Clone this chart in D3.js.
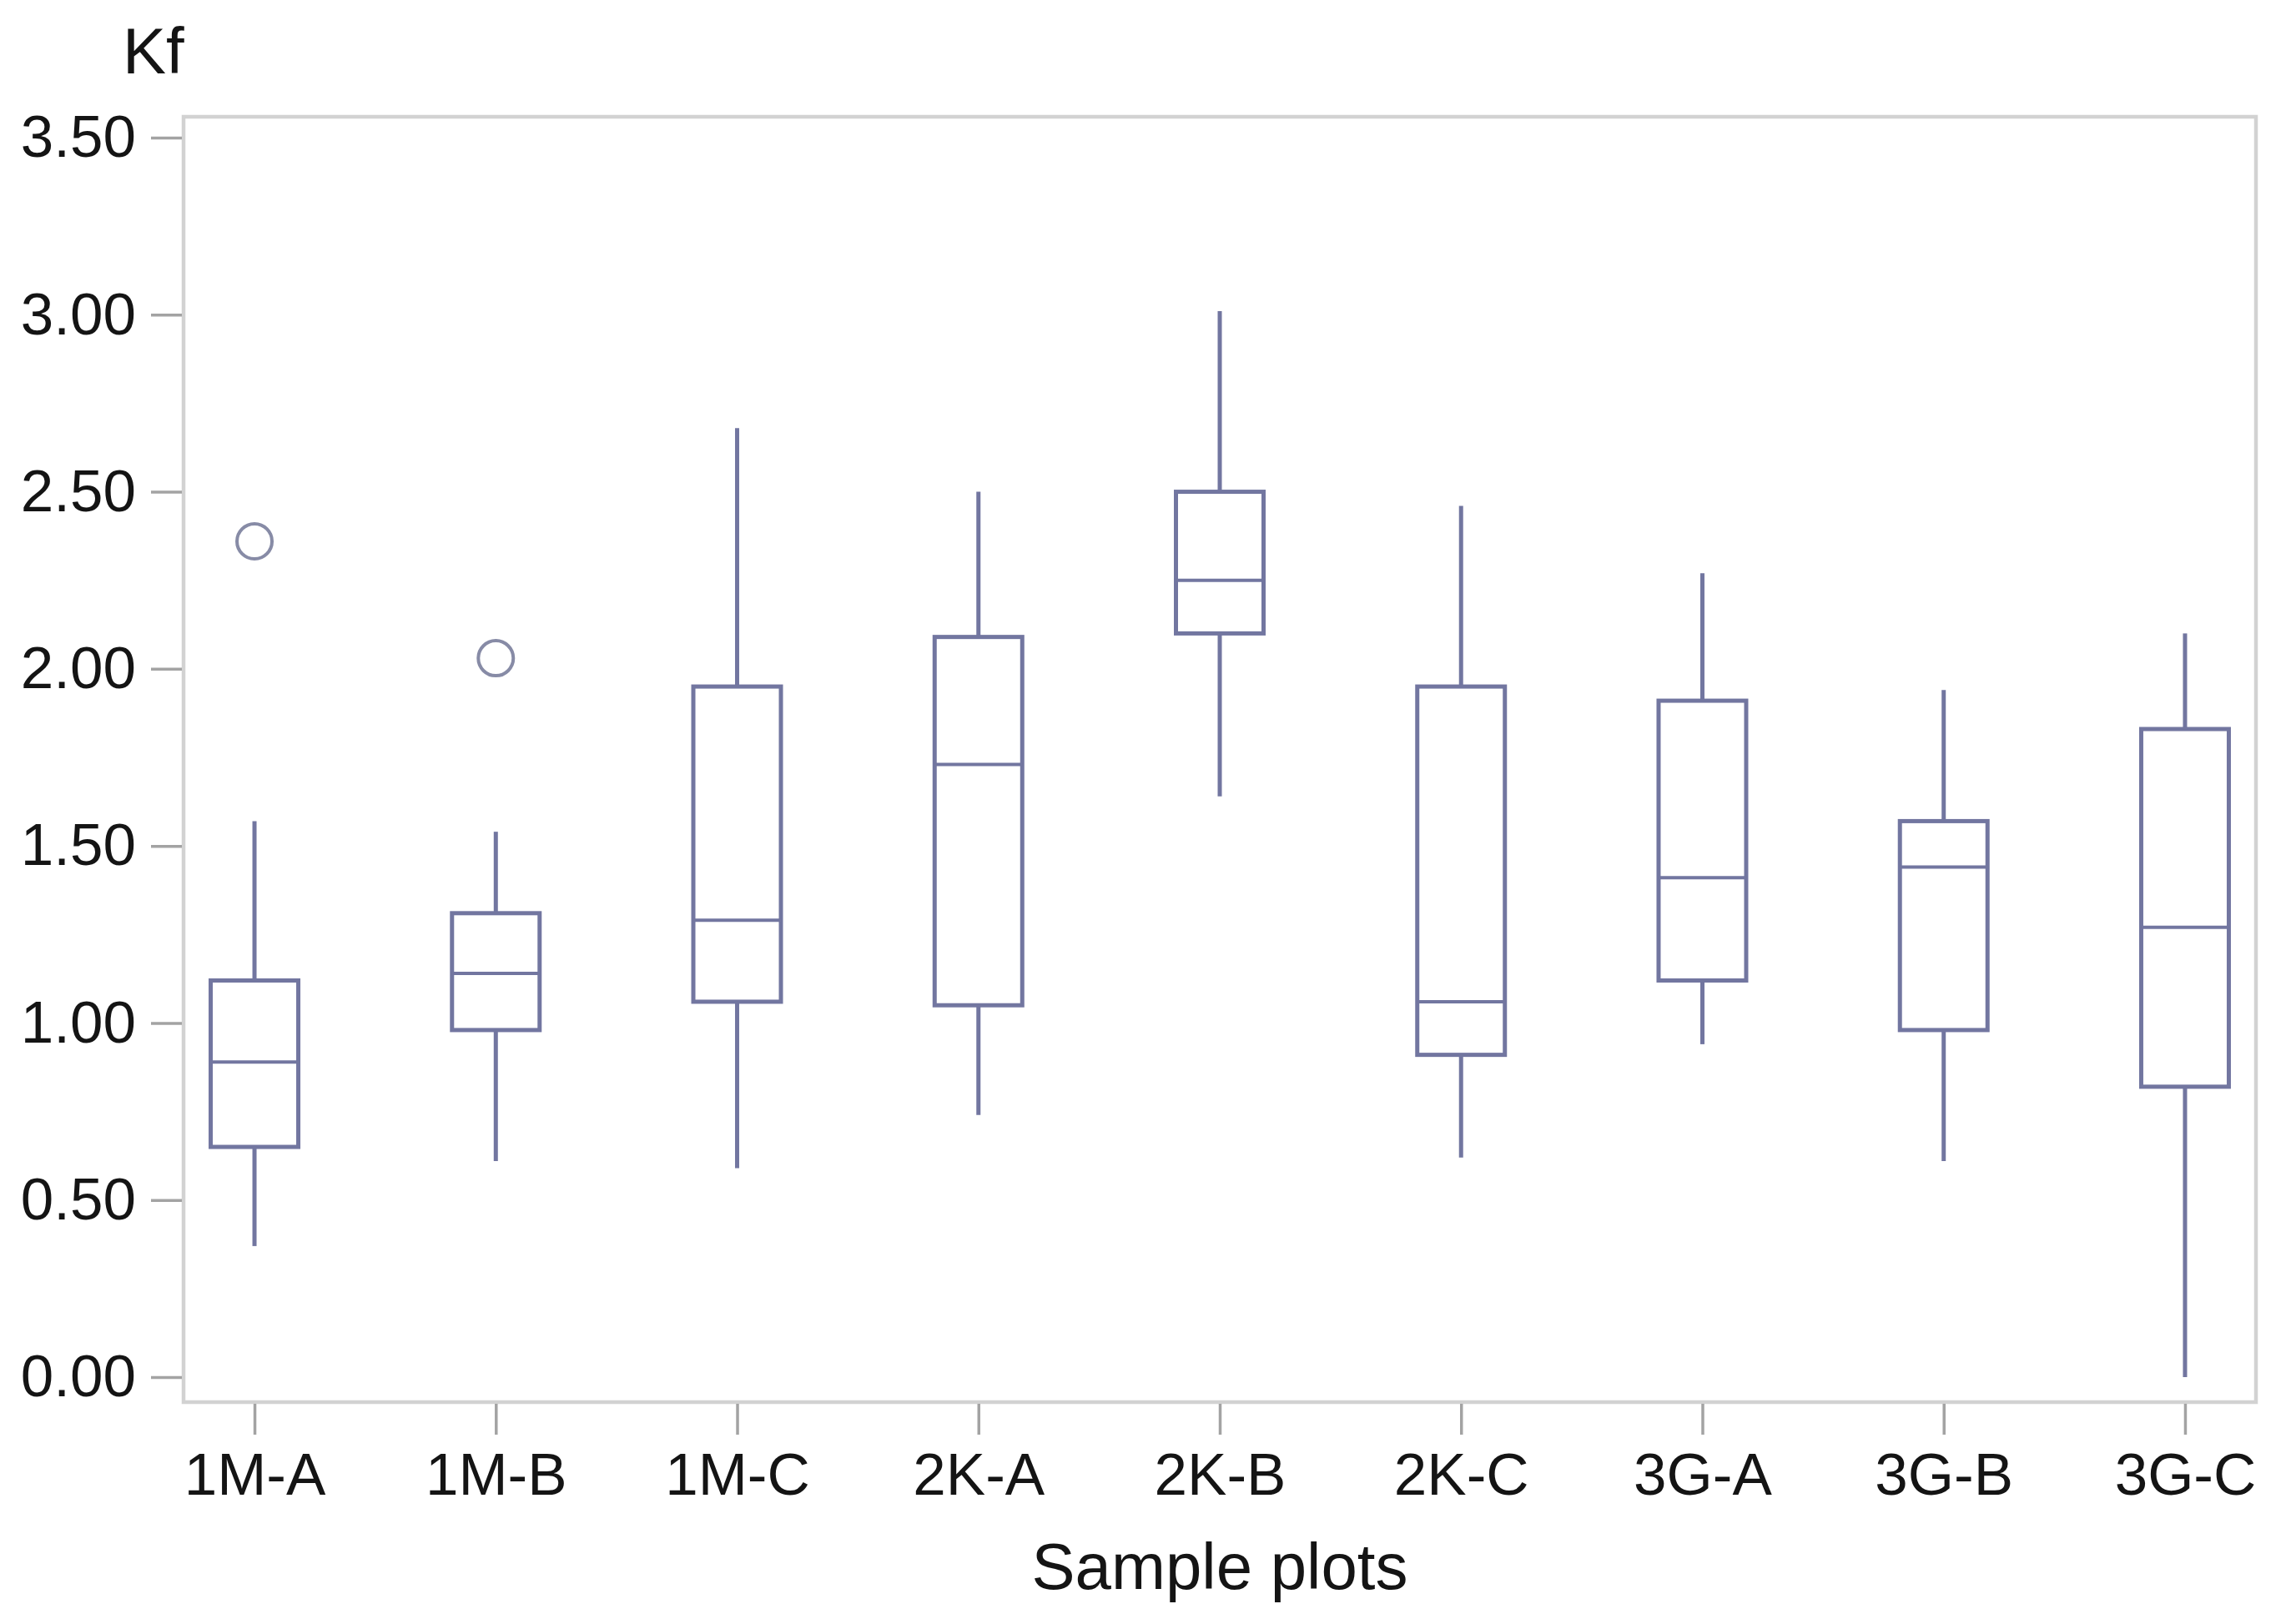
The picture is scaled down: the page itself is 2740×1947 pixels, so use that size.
<!DOCTYPE html>
<html>
<head>
<meta charset="utf-8">
<script src="https://cdn.jsdelivr.net/npm/d3@7"></script>
<style>
  body { margin: 0; background: #ffffff; }
  text { font-family: "Liberation Sans", Arial, sans-serif; fill: #141414; }
</style>
</head>
<body>
<div id="canevas"></div>
<script>

////////////////////////////////////////////////////////////////////////////////////////////
//                                        données                                         //
////////////////////////////////////////////////////////////////////////////////////////////

let categories = ["1M-A", "1M-B", "1M-C", "2K-A", "2K-B", "2K-C", "3G-A", "3G-B", "3G-C"];
let basMoustache = [0.37, 0.61, 0.59, 0.74, 1.64, 0.62, 0.94, 0.61, 0.00];
let q1          = [0.65, 0.98, 1.06, 1.05, 2.10, 0.91, 1.12, 0.98, 0.82];
let mediane     = [0.89, 1.14, 1.29, 1.73, 2.25, 1.06, 1.41, 1.44, 1.27];
let q3          = [1.12, 1.31, 1.95, 2.09, 2.50, 1.95, 1.91, 1.57, 1.83];
let hautMoustache = [1.57, 1.54, 2.68, 2.50, 3.01, 2.46, 2.27, 1.94, 2.10];
// valeurs atypiques
let atypiques = [{cat: "1M-A", v: 2.36}, {cat: "1M-B", v: 2.03}];

let yTicks = [0, 0.5, 1, 1.5, 2, 2.5, 3, 3.5];

let boites = categories.map((c, i) => ({
  cat: c, lo: basMoustache[i], q1: q1[i], med: mediane[i], q3: q3[i], hi: hautMoustache[i]
}));

////////////////////////////////////////////////////////////////////////////////////////////
//                                        canevas                                         //
////////////////////////////////////////////////////////////////////////////////////////////

let largeur = 2740;
let hauteur = 1947;

let cadre = {gauche: 220, droite: 2704, haut: 140, bas: 1681};

let couleurBoite = "#7276a0";
let couleurAxe = "#a3a3a3";

let canevas = d3.select("#canevas")
  .append("svg")
  .attr("width", largeur)
  .attr("height", hauteur);

canevas.append("rect")
  .attr("width", "100%")
  .attr("height", "100%")
  .attr("fill", "#ffffff");

// echelles
let echelleX = d3.scalePoint()
  .domain(categories)
  .range([cadre.gauche, cadre.droite])
  .padding(0.294);

let echelleY = d3.scaleLinear()
  .domain([0, 3.5])
  .range([1651, 165]);

let demiLargeur = 52.5;

// cadre du graphique
canevas.append("rect")
  .attr("x", cadre.gauche)
  .attr("y", cadre.haut)
  .attr("width", cadre.droite - cadre.gauche)
  .attr("height", cadre.bas - cadre.haut)
  .attr("fill", "none")
  .attr("stroke", "#d2d2d2")
  .attr("stroke-width", 4.5);

// axe y
let axeY = d3.axisLeft(echelleY)
  .tickValues(yTicks)
  .tickFormat(d3.format(".2f"))
  .tickSize(37)
  .tickPadding(18);

let gY = canevas.append("g")
  .attr("transform", `translate(${cadre.gauche - 2},0)`)
  .call(axeY);
gY.select(".domain").remove();
gY.selectAll(".tick line").attr("stroke", couleurAxe).attr("stroke-width", 3.5);
gY.selectAll(".tick text")
  .style("font-size", "71px")
  .attr("fill", "#141414");

// axe x
let axeX = d3.axisBottom(echelleX)
  .tickSize(37)
  .tickPadding(22);

let gX = canevas.append("g")
  .attr("transform", `translate(0,${cadre.bas + 2})`)
  .call(axeX);
gX.select(".domain").remove();
gX.selectAll(".tick line").attr("stroke", couleurAxe).attr("stroke-width", 3.5);
gX.selectAll(".tick text")
  .style("font-size", "71px")
  .attr("fill", "#141414");

////////////////////////////////////////////////////////////////////////////////////////////
//                                        boites                                          //
////////////////////////////////////////////////////////////////////////////////////////////

let g = canevas.append("g");

// moustaches
g.selectAll(".moustache-haut")
  .data(boites)
  .enter()
  .append("line")
    .attr("x1", d => echelleX(d.cat))
    .attr("x2", d => echelleX(d.cat))
    .attr("y1", d => echelleY(d.q3))
    .attr("y2", d => echelleY(d.hi))
    .attr("stroke", couleurBoite)
    .attr("stroke-width", 5);

g.selectAll(".moustache-bas")
  .data(boites)
  .enter()
  .append("line")
    .attr("x1", d => echelleX(d.cat))
    .attr("x2", d => echelleX(d.cat))
    .attr("y1", d => echelleY(d.q1))
    .attr("y2", d => echelleY(d.lo))
    .attr("stroke", couleurBoite)
    .attr("stroke-width", 5);

// boites
g.selectAll(".boite")
  .data(boites)
  .enter()
  .append("rect")
    .attr("x", d => echelleX(d.cat) - demiLargeur)
    .attr("y", d => echelleY(d.q3))
    .attr("width", demiLargeur * 2)
    .attr("height", d => echelleY(d.q1) - echelleY(d.q3))
    .attr("fill", "#ffffff")
    .attr("stroke", couleurBoite)
    .attr("stroke-width", 5);

// medianes
g.selectAll(".mediane")
  .data(boites)
  .enter()
  .append("line")
    .attr("x1", d => echelleX(d.cat) - demiLargeur)
    .attr("x2", d => echelleX(d.cat) + demiLargeur)
    .attr("y1", d => echelleY(d.med))
    .attr("y2", d => echelleY(d.med))
    .attr("stroke", couleurBoite)
    .attr("stroke-width", 4);

// points atypiques
g.selectAll("circle")
  .data(atypiques)
  .enter()
  .append("circle")
    .attr("cx", d => echelleX(d.cat))
    .attr("cy", d => echelleY(d.v))
    .attr("r", 21)
    .attr("fill", "none")
    .attr("stroke", "#878ba6")
    .attr("stroke-width", 4);

////////////////////////////////////////////////////////////////////////////////////////////
//                                        titres                                          //
////////////////////////////////////////////////////////////////////////////////////////////

canevas.append("text")
  .attr("x", 147)
  .attr("y", 88)
  .style("font-size", "78px")
  .text("Kf");

canevas.append("text")
  .attr("x", (cadre.gauche + cadre.droite) / 2)
  .attr("y", 1905)
  .attr("text-anchor", "middle")
  .style("font-size", "78px")
  .text("Sample plots");

</script>
</body>
</html>
